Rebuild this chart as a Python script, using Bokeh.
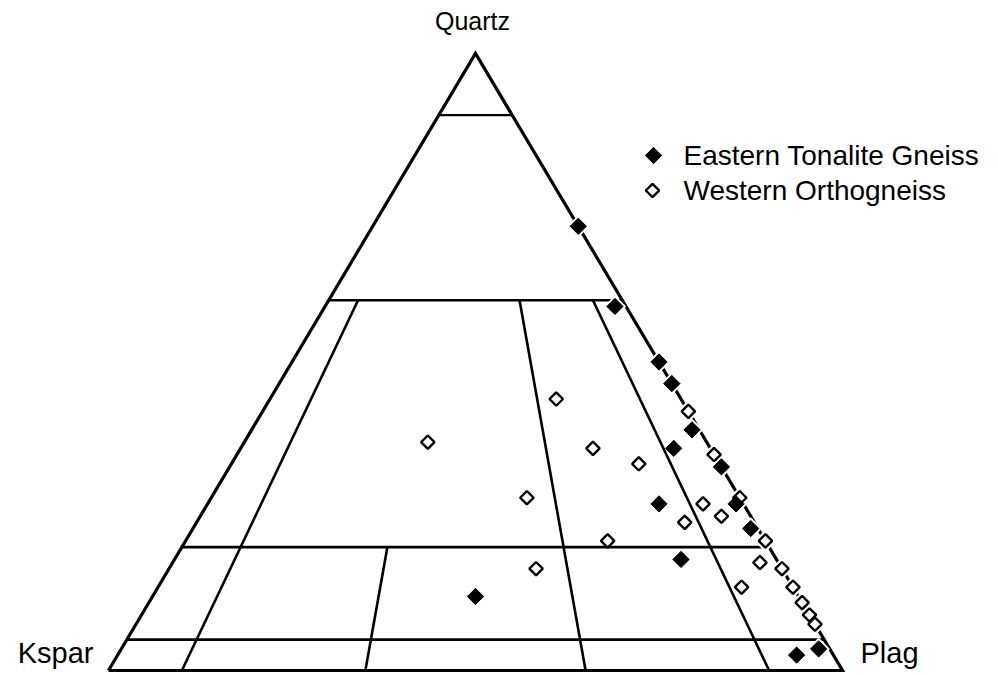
import numpy as np
from bokeh.plotting import figure
from bokeh.models import Label
from bokeh.embed import file_html
from bokeh.resources import INLINE

# Modal compositions in percent (Q = quartz, A = alkali feldspar, P = plagioclase)
east_q = [72, 59, 50, 46.5, 39, 36, 33, 27, 27, 23, 18, 12, 3.5, 2.5]
east_a = [0, 1.5, 0, 0, 1, 5, 0, 1, 11.5, 1, 13, 44, 1.5, 5]

west_q = [37, 44, 36, 33.5, 28, 21, 16.5, 27, 25, 24, 21, 17.5, 13.5, 13.5,
          42, 35, 28, 16.5, 11, 9, 7.5]
west_a = [38, 17, 16, 11, 29, 21.5, 33.5, 5.5, 4, 9.5, 0, 2.5, 7, 0,
          0, 0, 0, 0, 0, 0, 0]

# QAP field boundaries: horizontal quartz levels and P/(A+P) ratio lines (ratio, upper Q limit)
q_levels = [90, 60, 20, 5]
ratio_lines = [(10, 60), (35, 20), (65, 60), (90, 60)]

corner_labels = ["Quartz", "Kspar", "Plag"]
series_names = ["Eastern Tonalite Gneiss", "Western Orthogneiss"]

FONT = "Liberation Sans"
W, H = 998, 675
X0, X1 = -0.1471, 1.2125
Y0, Y1 = -0.0081, 1.0859


def to_xy(q, a):
    q = np.asarray(q, dtype=float) / 100.0
    a = np.asarray(a, dtype=float) / 100.0
    p = 1.0 - q - a
    return p + q / 2.0, q


def screen_to_data(sx, sy):
    # sx, sy measured in pixels from the top-left of the canvas
    return X0 + sx / W * (X1 - X0), Y1 - sy / H * (Y1 - Y0)


p = figure(width=W, height=H, output_backend="svg", toolbar_location=None,
           x_range=(X0, X1), y_range=(Y0, Y1),
           x_axis_type=None, y_axis_type=None, min_border=0)
p.grid.visible = False
p.outline_line_color = None
p.background_fill_color = "white"
p.border_fill_color = "white"

# outer triangle
p.line([0, 0.5, 1, 0], [0, 1, 0, 0], line_color="black", line_width=3.2, line_join="miter")

# quartz levels (edge to edge)
for lvl in q_levels:
    q = lvl / 100.0
    lw = 2.2 if lvl == 90 else 2.6
    p.line([q / 2, 1 - q / 2], [q, q], line_color="black", line_width=lw)

# feldspar ratio lines
for r, qtop in ratio_lines:
    rt = r / 100.0
    qt = qtop / 100.0
    x_top = rt * (1 - qt) + qt / 2
    p.line([x_top, rt], [qt, 0], line_color="black", line_width=2.6)

ex, ey = to_xy(east_q, east_a)
wx, wy = to_xy(west_q, west_a)

# white halos where samples sit on the Q-P join
all_a = east_a + west_a
halo_x = [x for x, a in zip(list(ex) + list(wx), all_a) if a <= 1.5]
halo_y = [y for y, a in zip(list(ey) + list(wy), all_a) if a <= 1.5]
p.scatter(halo_x, halo_y, marker="square", angle=np.pi / 4, size=16,
          fill_color="white", line_color=None)

open_style = dict(marker="square", angle=np.pi / 4, size=9.5,
                  fill_color="white", line_color="black", line_width=2.4)
filled_style = dict(marker="square", angle=np.pi / 4, size=11.5,
                    fill_color="black", line_color="black", line_width=1)

p.scatter(wx, wy, **open_style)
p.scatter(ex, ey, **filled_style)

# key
lx1, ly1 = screen_to_data(653, 155)
lx2, ly2 = screen_to_data(652, 190)
p.scatter([lx1], [ly1], **filled_style)
p.scatter([lx2], [ly2], **open_style)
for name, sy in zip(series_names, [155, 190]):
    p.add_layout(Label(x=683, y=H - sy, x_units="screen", y_units="screen",
                       text=name, text_font=FONT, text_font_size="28px",
                       text_color="black", text_baseline="middle", text_align="left"))

common = dict(text_color="black", text_font=FONT, text_baseline="alphabetic")
p.add_layout(Label(x=0.5, y=1.0, y_offset=33, x_offset=-3, text=corner_labels[0],
                   text_align="center", text_font_size="25px", **common))
p.add_layout(Label(x=0.0, y=0.0, x_offset=-15, y_offset=18, text=corner_labels[1],
                   text_align="right", text_font_size="29px", **common))
p.add_layout(Label(x=1.0, y=0.0, x_offset=18, y_offset=18, text=corner_labels[2],
                   text_align="left", text_font_size="29px", **common))

open("out.html", "w").write(file_html(p, INLINE))
